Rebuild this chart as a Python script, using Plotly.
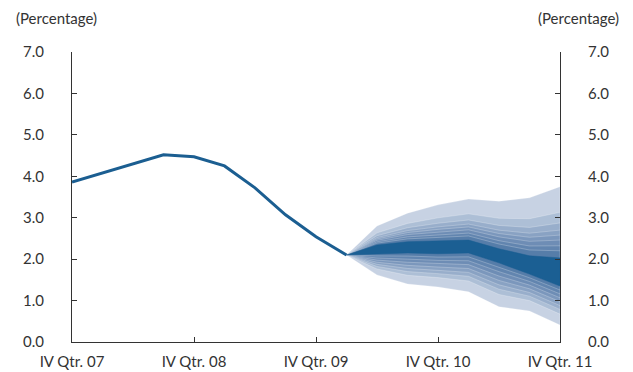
import plotly.graph_objects as go

# ---------------- data ----------------
quarters = ["IV-07", "I-08", "II-08", "III-08", "IV-08",
            "I-09", "II-09", "III-09", "IV-09",
            "I-10", "II-10", "III-10", "IV-10",
            "I-11", "II-11", "III-11", "IV-11"]
tick_quarters = ["IV-07", "IV-08", "IV-09", "IV-10", "IV-11"]
tick_labels = ["IV Qtr. 07", "IV Qtr. 08", "IV Qtr. 09", "IV Qtr. 10", "IV Qtr. 11"]

hist_quarters = quarters[:10]
hist_values = [3.86, 4.08, 4.30, 4.52, 4.47, 4.25, 3.72, 3.07, 2.54, 2.10]

fan_quarters = quarters[9:]
outer_upper = [2.10, 2.80, 3.11, 3.31, 3.45, 3.40, 3.48, 3.75]
outer_lower = [2.10, 1.62, 1.40, 1.33, 1.21, 0.85, 0.75, 0.41]
dark_upper = [2.10, 2.34, 2.42, 2.44, 2.46, 2.25, 2.08, 2.03]
dark_lower = [2.10, 2.13, 2.15, 2.13, 2.15, 1.91, 1.64, 1.35]

# relative position of each band edge (outermost -> innermost)
upper_band_fracs = [1.0, 0.64, 0.49, 0.39, 0.32, 0.25, 0.17, 0.10]
lower_band_fracs = [1.0, 0.72, 0.60, 0.50, 0.40, 0.30, 0.20, 0.10]
band_colors = ["#c7d2e3", "#adbfd6", "#98aecb", "#89a2c3", "#7b97bc",
               "#6e8db5", "#6285af", "#567da9"]
dark_color = "#1b5f93"
line_color = "#1b5e91"

FONT = "Lato, 'Open Sans', sans-serif"
TXT = "#333333"
FS = 15

fig = go.Figure()

# fan bands, outermost first
for k, col in enumerate(band_colors):
    up = [du + upper_band_fracs[k] * (ou - du) for du, ou in zip(dark_upper, outer_upper)]
    lo = [dl - lower_band_fracs[k] * (dl - ol) for dl, ol in zip(dark_lower, outer_lower)]
    fig.add_trace(go.Scatter(
        x=fan_quarters + fan_quarters[::-1], y=up + lo[::-1],
        fill="toself", fillcolor=col, mode="lines",
        line=dict(color="rgba(255,255,255,0.35)", width=0.7),
        hoverinfo="skip", showlegend=False))

fig.add_trace(go.Scatter(
    x=fan_quarters + fan_quarters[::-1], y=dark_upper + dark_lower[::-1],
    fill="toself", fillcolor=dark_color, mode="lines",
    line=dict(color=dark_color, width=0.5),
    hoverinfo="skip", showlegend=False))

fig.add_trace(go.Scatter(
    x=hist_quarters, y=hist_values, mode="lines",
    line=dict(color=line_color, width=3), showlegend=False))

# invisible trace for right axis
fig.add_trace(go.Scatter(x=[quarters[0]], y=[0], yaxis="y2", mode="markers",
                         marker=dict(opacity=0), hoverinfo="skip", showlegend=False))

yax = dict(range=[0, 7], tickvals=[0, 1, 2, 3, 4, 5, 6, 7],
           ticktext=["0.0", "1.0", "2.0", "3.0", "4.0", "5.0", "6.0", "7.0"],
           showgrid=False, zeroline=False, showline=True, linecolor="#333333",
           linewidth=1, ticks="inside", ticklen=5, tickcolor="#333333",
           automargin=False,
           tickfont=dict(family=FONT, size=FS, color=TXT), ticklabelstandoff=24)

fig.update_layout(
    width=633, height=372,
    margin=dict(l=72, r=73, t=52, b=30, autoexpand=False),
    paper_bgcolor="white", plot_bgcolor="white",
    xaxis=dict(type="category", categoryarray=quarters, categoryorder="array",
               range=[0, 16], tickvals=tick_quarters, ticktext=tick_labels,
               showgrid=False, zeroline=False, showline=True, linecolor="#333333",
               linewidth=1, ticks="inside", ticklen=5, tickcolor="#333333",
               automargin=False,
               tickfont=dict(family=FONT, size=FS, color=TXT), ticklabelstandoff=6),
    yaxis=yax,
    yaxis2=dict(yax, overlaying="y", side="right"),
    annotations=[
        dict(text="(Percentage)", xref="paper", yref="paper", x=-0.119, y=1.0,
             yshift=34, xanchor="left", yanchor="middle", showarrow=False,
             font=dict(family=FONT, size=FS, color=TXT)),
        dict(text="(Percentage)", xref="paper", yref="paper", x=1.125, y=1.0,
             yshift=34, xanchor="right", yanchor="middle", showarrow=False,
             font=dict(family=FONT, size=FS, color=TXT)),
    ],
)

fig.write_html("out.html", config={"displayModeBar": False},
               post_script="document.body.style.margin='0';document.body.style.overflow='hidden';")
